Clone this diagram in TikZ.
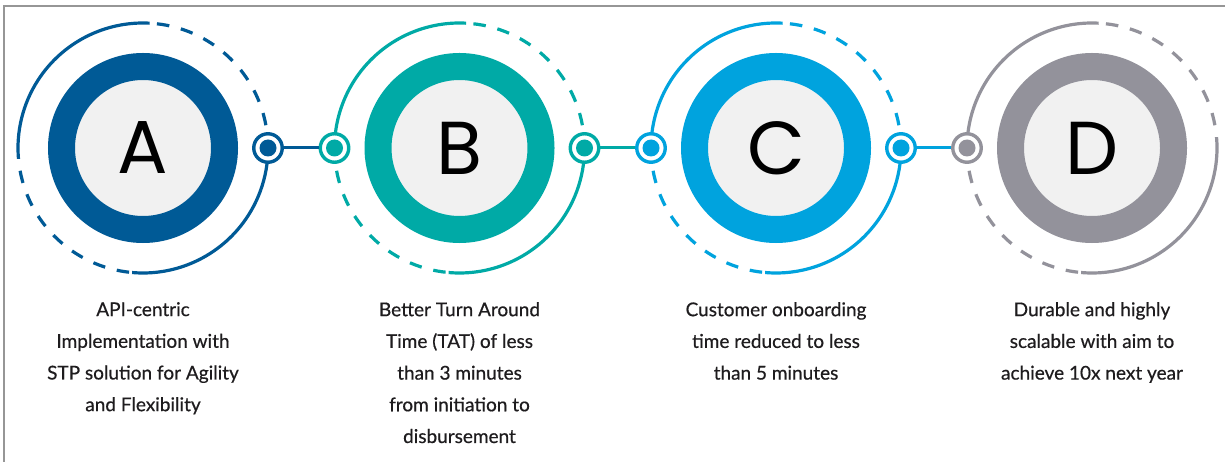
\documentclass[tikz,border=0pt]{standalone}
\usepackage{fontspec}
\setmainfont{Lato}
\newfontfamily\captionfont{Lato}[FakeBold=0.5]
\newfontfamily\letterfont{Poppins}
\definecolor{colA}{RGB}{0,90,150}
\definecolor{colB}{RGB}{0,170,166}
\definecolor{colC}{RGB}{0,163,222}
\definecolor{colD}{RGB}{147,146,155}
\definecolor{discfill}{RGB}{241,241,241}
\definecolor{captiontext}{RGB}{30,28,30}
\definecolor{framegray}{RGB}{150,150,150}
% orbit ring around a disc: solid and dashed quarter arcs
\newcommand\drawOrbit[2]{%
  \draw[orbitsolid=#2] ([shift={(87:125pt)}]#1.center) arc[start angle=87, end angle=185, radius=125pt];
  \draw[orbitdash=#2] ([shift={(185:125pt)}]#1.center) arc[start angle=185, end angle=265, radius=125pt];
  \draw[orbitsolid=#2] ([shift={(265:125pt)}]#1.center) arc[start angle=265, end angle=365, radius=125pt];
  \draw[orbitdash=#2] ([shift={(5:125pt)}]#1.center) arc[start angle=5, end angle=87, radius=125pt];
}
\begin{document}
\begin{tikzpicture}[x=1pt,y=1pt,
  bigdisc/.style={circle, draw=#1, fill=discfill, line width=27pt, minimum size=163pt,
    inner sep=0pt, text=black, font=\letterfont\fontsize{75}{75}\selectfont},
  port/.style={circle, draw=#1, fill=white, line width=3.4pt, minimum size=28.5pt, inner sep=0pt,
    path picture={\fill[#1] (path picture bounding box.center) circle[radius=8.5pt];}},
  link/.style={draw=#1, line width=3pt},
  orbitsolid/.style={draw=#1, line width=3.2pt},
  orbitdash/.style={draw=#1, line width=3.2pt, dash pattern=on 12.5pt off 12pt, dash phase=12.5pt},
  caption/.style={align=center, anchor=north, inner sep=0pt, text=captiontext,
    font=\captionfont\fontsize{19}{31.7}\selectfont}]
\useasboundingbox (0,0) rectangle (1225,-462);
\fill[white] (0,0) rectangle (1225,-462);

% frame
\draw[framegray, line width=1.2pt] (4,-462) -- (4,-6) -- (1225,-6);

% discs
\node[bigdisc=colA] (A) at (143,-148) {A};
\node[bigdisc=colB] (B) at (459.5,-148) {B};
\node[bigdisc=colC] (C) at (776,-148) {C};
\node[bigdisc=colD] (D) at (1092,-148) {D};

% orbits
\drawOrbit{A}{colA}
\drawOrbit{B}{colB}
\drawOrbit{C}{colC}
\drawOrbit{D}{colD}

% ports on the orbits
\node[port=colA] (Ar) at ([xshift=125pt]A.center) {};
\node[port=colB] (Bl) at ([xshift=-125pt]B.center) {};
\node[port=colB] (Br) at ([xshift=125pt]B.center) {};
\node[port=colC] (Cl) at ([xshift=-125pt]C.center) {};
\node[port=colC] (Cr) at ([xshift=125pt]C.center) {};
\node[port=colD] (Dl) at ([xshift=-125pt]D.center) {};

% links
\draw[link=colA] (Ar) -- (Bl);
\draw[link=colB] (Br) -- (Cl);
\draw[link=colC] (Cr) -- (Dl);

% captions
\node[caption] (capA) at ([yshift=-154pt]A.center) {API-centric\\Implementation with\\STP solution for Agility\\and Flexibility};
\node[caption] (capB) at ([yshift=-154pt]B.center) {Better Turn Around\\Time (TAT) of less\\than 3 minutes\\from initiation to\\disbursement};
\node[caption] (capC) at ([yshift=-154pt]C.center) {Customer onboarding\\time reduced to less\\than 5 minutes};
\node[caption] (capD) at ([yshift=-154pt]D.center) {Durable and highly\\scalable with aim to\\achieve 10x next year};
\end{tikzpicture}
\end{document}
